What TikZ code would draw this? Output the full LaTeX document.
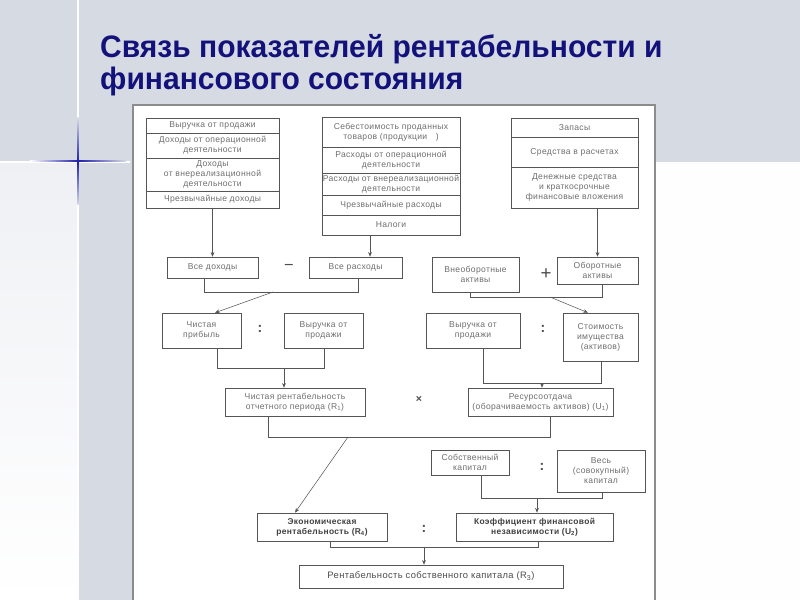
\documentclass[tikz,border=0pt]{standalone}
\usepackage{graphicx}
\usepackage{fontspec}
\setmainfont{Liberation Sans}
\newfontfamily\scanfont[LetterSpace=4]{Liberation Sans}
\usetikzlibrary{arrows.meta,calc}
\definecolor{bgc}{RGB}{214,218,227}
\definecolor{titlec}{RGB}{18,18,122}
\definecolor{linec}{RGB}{85,85,85}
\definecolor{txtc}{RGB}{110,110,110}
\definecolor{starc}{RGB}{30,30,170}
\begin{document}
\begin{tikzpicture}[x=0.03cm,y=-0.03cm,
  box/.style={draw=linec, line width=0.45pt, inner sep=0pt, align=center, text=txtc,
    font=\scanfont\fontsize{7.3}{8.6}\selectfont},
  bbox/.style={box, line width=0.6pt, text=black!75, font=\scanfont\bfseries\fontsize{7.2}{8.6}\selectfont},
  wh/.style 2 args={minimum width=#1*0.03cm, minimum height=#2*0.03cm},
  conn/.style={draw=linec, line width=0.45pt},
  arr/.style={conn, -{Stealth[length=4pt,width=3.2pt]}},
  op/.style={inner sep=0pt, text=black!70, font=\bfseries\fontsize{12}{12}\selectfont},
  ttl/.style={anchor=base west, text=titlec, inner sep=0pt, font=\bfseries\fontsize{26.5}{26.5}\selectfont}]
\useasboundingbox (0,0) rectangle (800,600);
% background
\fill[bgc] (0,0) rectangle (800,600);
\shade[top color=bgc!40, bottom color=white] (0,162) rectangle (77,600);
\fill[white!97!bgc] (655,162) rectangle (800,600);
\draw[white, line width=1.2pt] (78,0) -- (78,600);
\draw[white, line width=1pt] (0,162) -- (130,162);
\shade[left color=white, right color=bgc, middle color=starc] (30,160.5) rectangle (126,162);
\shade[top color=bgc, bottom color=bgc, middle color=starc] (77.3,118) rectangle (78.7,205);
% title
\node[ttl] (t1) at (100,58) {\scalebox{0.967}[1]{Связь показателей рентабельности и}};
\node[ttl] (t2) at (100,90) {\scalebox{0.967}[1]{финансового состояния}};
% scanned sheet
\fill[white] (133,105) rectangle (655,600);
\draw[black!45, line width=1.2pt] (133,600) -- (133,105) -- (655,105) -- (655,600);
% top left column
\node[box, wh={133}{15}] (L1) at (212.5,125.5) {Выручка от продажи};
\node[box, wh={133}{25}] (L2) at (212.5,145.5) {Доходы от операционной\\деятельности};
\node[box, wh={133}{33}] (L3) at (212.5,174.5) {Доходы\\от внереализационной\\деятельности};
\node[box, wh={133}{17}] (L4) at (212.5,199.5) {Чрезвычайные доходы};
% top middle column
\node[box, wh={138}{30}] (M1) at (391,132) {Себестоимость проданных\\товаров (продукции\quad)};
\node[box, wh={138}{26}] (M2) at (391,160) {Расходы от операционной\\деятельности};
\node[box, wh={138}{22}] (M3) at (391,184) {Расходы от внереализационной\\деятельности};
\node[box, wh={138}{20}] (M4) at (391,205) {Чрезвычайные расходы};
\node[box, wh={138}{20}] (M5) at (391,225) {Налоги};
% top right column
\node[box, wh={127}{19}] (R1) at (574.5,127.5) {Запасы};
\node[box, wh={127}{30}] (R2) at (574.5,152) {Средства в расчетах};
\node[box, wh={127}{41}] (R3) at (574.5,187.5) {Денежные средства\\и краткосрочные\\финансовые вложения};
% row 2
\node[box, wh={91}{21}] (vd) at (212.5,267.5) {Все доходы};
\node[box, wh={93}{21}] (vr) at (355.5,267.5) {Все расходы};
\node[box, wh={87}{35}] (vna) at (475.5,274.5) {Внеоборотные\\активы};
\node[box, wh={81}{27}] (oa) at (597.5,270.5) {Оборотные\\активы};
\node[op, font=\fontsize{14}{14}\selectfont] (minus) at (289,267) {−};
\node[op, font=\fontsize{16}{16}\selectfont] (plus) at (546,274) {+};
% row 3
\node[box, wh={79}{35}] (cp) at (201.5,330.5) {Чистая\\прибыль};
\node[box, wh={79}{35}] (vp1) at (323.5,330.5) {Выручка от\\продажи};
\node[box, wh={94}{35}] (vp2) at (473,330.5) {Выручка от\\продажи};
\node[box, wh={75}{48}] (si) at (600.5,337) {Стоимость\\имущества\\(активов)};
\node[op] (c1) at (260,329) {:};
\node[op] (c2) at (543,329) {:};
% row 4
\node[box, wh={140}{28}] (cr) at (295,402) {Чистая рентабельность\\отчетного периода (R\textsubscript{1})};
\node[box, wh={145}{28}] (ro) at (540.5,402) {Ресурсоотдача\\(оборачиваемость активов) (U\textsubscript{1})};
\node[op, font=\bfseries\fontsize{9}{9}\selectfont] (times) at (419,399) {×};
% row 5
\node[box, wh={78}{25}] (sk) at (470,462.5) {Собственный\\капитал};
\node[box, wh={88}{42}] (vk) at (601,471) {Весь\\(совокупный)\\капитал};
\node[op] (c3) at (542,467) {:};
% row 6
\node[bbox, wh={130}{28}] (er) at (322,527) {Экономическая\\рентабельность (R\textsubscript{4})};
\node[bbox, wh={157}{28}] (kf) at (534.5,527) {Коэффициент финансовой\\независимости (U\textsubscript{2})};
\node[op] (c4) at (424,529) {:};
% row 7
\node[box, wh={264}{23}, text=black!70, font=\scanfont\fontsize{8}{9}\selectfont] (rsk) at (431,576.5) {Рентабельность собственного капитала (R\textsubscript{3})};
% connectors top
\draw[arr] (L4.south) -- (vd.north);
\coordinate (xr) at (370,0);
\draw[arr] (M5.south -| xr) -- (vr.north -| xr);
\draw[arr] (R3.south -| oa.north) -- (oa.north);
% row 2 brackets
\coordinate (b1l) at (204,292); \coordinate (b1r) at (358,292);
\draw[conn] (vd.south -| b1l) -- (b1l) -- (b1r) -- (vr.south -| b1r);
\coordinate (d1) at (273,292); \coordinate (d1e) at (215,0);
\draw[arr] (d1) -- (cp.north -| d1e);
\coordinate (b2l) at (470,297); \coordinate (b2r) at (602,297);
\draw[conn] (vna.south -| b2l) -- (b2l) -- (b2r) -- (oa.south -| b2r);
\coordinate (d2) at (550,297); \coordinate (d2e) at (588,0);
\draw[arr] (d2) -- (si.north -| d2e);
% row 3 brackets
\coordinate (b3l) at (217,368); \coordinate (b3r) at (324,368); \coordinate (b3m) at (284,368);
\draw[conn] (cp.south -| b3l) -- (b3l) -- (b3r) -- (vp1.south -| b3r);
\draw[arr] (b3m) -- (cr.north -| b3m);
\coordinate (b4l) at (483,383); \coordinate (b4r) at (601,383); \coordinate (b4m) at (542,383);
\draw[conn] (vp2.south -| b4l) -- (b4l) -- (b4r) -- (si.south -| b4r);
\draw[arr] (b4m) -- (ro.north -| b4m);
% row 4 bracket
\coordinate (b5l) at (268,437); \coordinate (b5r) at (550,437);
\draw[conn] (cr.south -| b5l) -- (b5l) -- (b5r) -- (ro.south -| b5r);
\coordinate (d5) at (348,437); \coordinate (d5e) at (295,0);
\draw[arr] (d5) -- (er.north -| d5e);
% row 5 bracket
\coordinate (b6l) at (481,498); \coordinate (b6r) at (602,498); \coordinate (b6m) at (537,498);
\draw[conn] (sk.south -| b6l) -- (b6l) -- (b6r) -- (vk.south -| b6r);
\draw[arr] (b6m) -- (kf.north -| b6m);
% row 6 bracket
\coordinate (b7l) at (330,547); \coordinate (b7r) at (538,547); \coordinate (b7m) at (424,547);
\draw[conn] (er.south -| b7l) -- (b7l) -- (b7r) -- (kf.south -| b7r);
\draw[arr] (b7m) -- (rsk.north -| b7m);
\end{tikzpicture}
\end{document}
